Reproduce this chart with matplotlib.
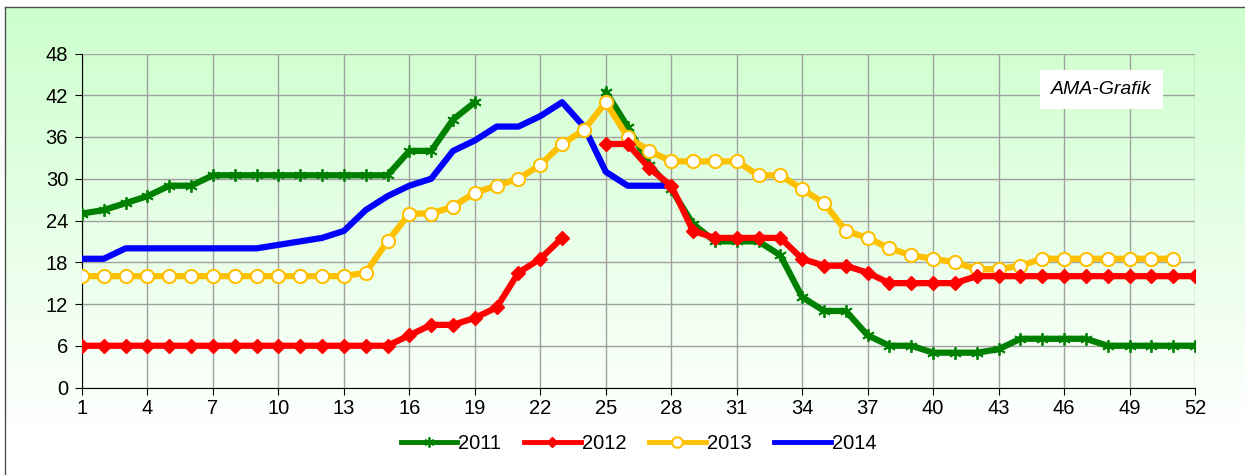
import numpy as np
import matplotlib
matplotlib.use("Agg")
import matplotlib.pyplot as plt

plt.rcParams['font.family'] = ['Liberation Sans', 'DejaVu Sans']

nan = np.nan
weeks = list(range(1, 53))

# Werte je Kalenderwoche
y2011 = [25, 25.5, 26.5, 27.5, 29, 29, 30.5, 30.5, 30.5, 30.5, 30.5, 30.5, 30.5, 30.5, 30.5, 34, 34, 38.5, 41,
         nan, nan, nan, nan, nan,
         42.5, 37.5, 32, 28.5, 23.5, 21, 21, 21, 19, 13, 11, 11, 7.5, 6, 6, 5, 5, 5, 5.5, 7, 7, 7, 7, 6, 6, 6, 6, 6]
y2012 = [6, 6, 6, 6, 6, 6, 6, 6, 6, 6, 6, 6, 6, 6, 6, 7.5, 9, 9, 10, 11.5, 16.5, 18.5, 21.5,
         nan,
         35, 35, 31.5, 29, 22.5, 21.5, 21.5, 21.5, 21.5, 18.5, 17.5, 17.5, 16.5, 15, 15, 15, 15, 16, 16, 16, 16, 16,
         16, 16, 16, 16, 16, 16]
y2013 = [16, 16, 16, 16, 16, 16, 16, 16, 16, 16, 16, 16, 16, 16.5, 21, 25, 25, 26, 28, 29, 30, 32, 35, 37, 41, 36,
         34, 32.5, 32.5, 32.5, 32.5, 30.5, 30.5, 28.5, 26.5, 22.5, 21.5, 20, 19, 18.5, 18, 17, 17, 17.5, 18.5, 18.5,
         18.5, 18.5, 18.5, 18.5, 18.5, nan]
y2014 = [18.5, 18.5, 20, 20, 20, 20, 20, 20, 20, 20.5, 21, 21.5, 22.5, 25.5, 27.5, 29, 30, 34, 35.5, 37.5, 37.5, 39,
         41, 37.5, 31, 29, 29, 29] + [nan] * 24

xticks = list(range(1, 53, 3))
yticks = list(range(0, 49, 6))

fig = plt.figure(figsize=(12.45, 4.75), dpi=100)

# Hintergrund mit Verlauf
bg = fig.add_axes([0, 0, 1, 1], zorder=-1)
grad = np.ones((475, 1, 3))
top = np.array([204, 255, 204]) / 255.0
for i in range(475):
    if i < 7:
        grad[i, 0, :] = 1.0
        continue
    t = min((i - 7) / 425.0, 1.0)
    grad[i, 0, :] = top * (1 - t) + np.array([1, 1, 1]) * t
bg.imshow(grad, aspect='auto', extent=[0, 1245, 475, 0])
bg.fill_between([0, 5], 0, 475, color='white')
bg.plot([5, 5], [7, 475], color='#505050', lw=1)
bg.plot([5, 1245], [7, 7], color='#505050', lw=1)
bg.set_xlim(0, 1245)
bg.set_ylim(475, 0)
bg.axis('off')

ax = fig.add_axes([82 / 1245, 1 - 387.5 / 475, 1113 / 1245, 334 / 475])
ax.patch.set_alpha(0)

ax.plot(weeks, y2011, color='#008000', lw=4.5, marker=(6, 2, 0), ms=9, mew=1.3, label='2011', zorder=3)
ax.plot(weeks, y2012, color='#FF0000', lw=4.5, marker='D', ms=7, label='2012', zorder=4)
ax.plot(weeks, y2013, color='#FFC000', lw=4.5, marker='o', ms=9.5, mfc='white', mec='#FFC000', mew=1.5,
        label='2013', zorder=3.5)
ax.plot(weeks, y2014, color='#0000FF', lw=4.5, label='2014', zorder=3.2)

ax.set_xlim(1, 52)
ax.set_ylim(0, 48)
ax.set_xticks(xticks)
ax.set_yticks(yticks)
ax.grid(True, color='#a0a0a0', lw=1)
ax.set_axisbelow(True)
for s in ['top', 'right']:
    ax.spines[s].set_visible(False)
ax.spines['left'].set_color('black')
ax.spines['bottom'].set_color('black')
ax.tick_params(axis='both', labelsize=14.5, direction='out', length=5, color='black')
ax.tick_params(axis='x', pad=3)
ax.tick_params(axis='y', pad=5)

ax.text(0.916, 0.891, 'AMA-Grafik', transform=ax.transAxes, ha='center', va='center', fontsize=14,
        style='italic', bbox=dict(facecolor='white', edgecolor='none', pad=8), zorder=5)

leg = ax.legend(loc='center', bbox_to_anchor=(0.5, -0.168), ncol=4, frameon=False, fontsize=14.5,
                handlelength=2.8, handletextpad=0.05, columnspacing=1.15)
for h in leg.legend_handles:
    h.set_linewidth(3.5)
    h.set_markersize(h.get_markersize() * 0.8)

fig.savefig('out.png', dpi=100)
